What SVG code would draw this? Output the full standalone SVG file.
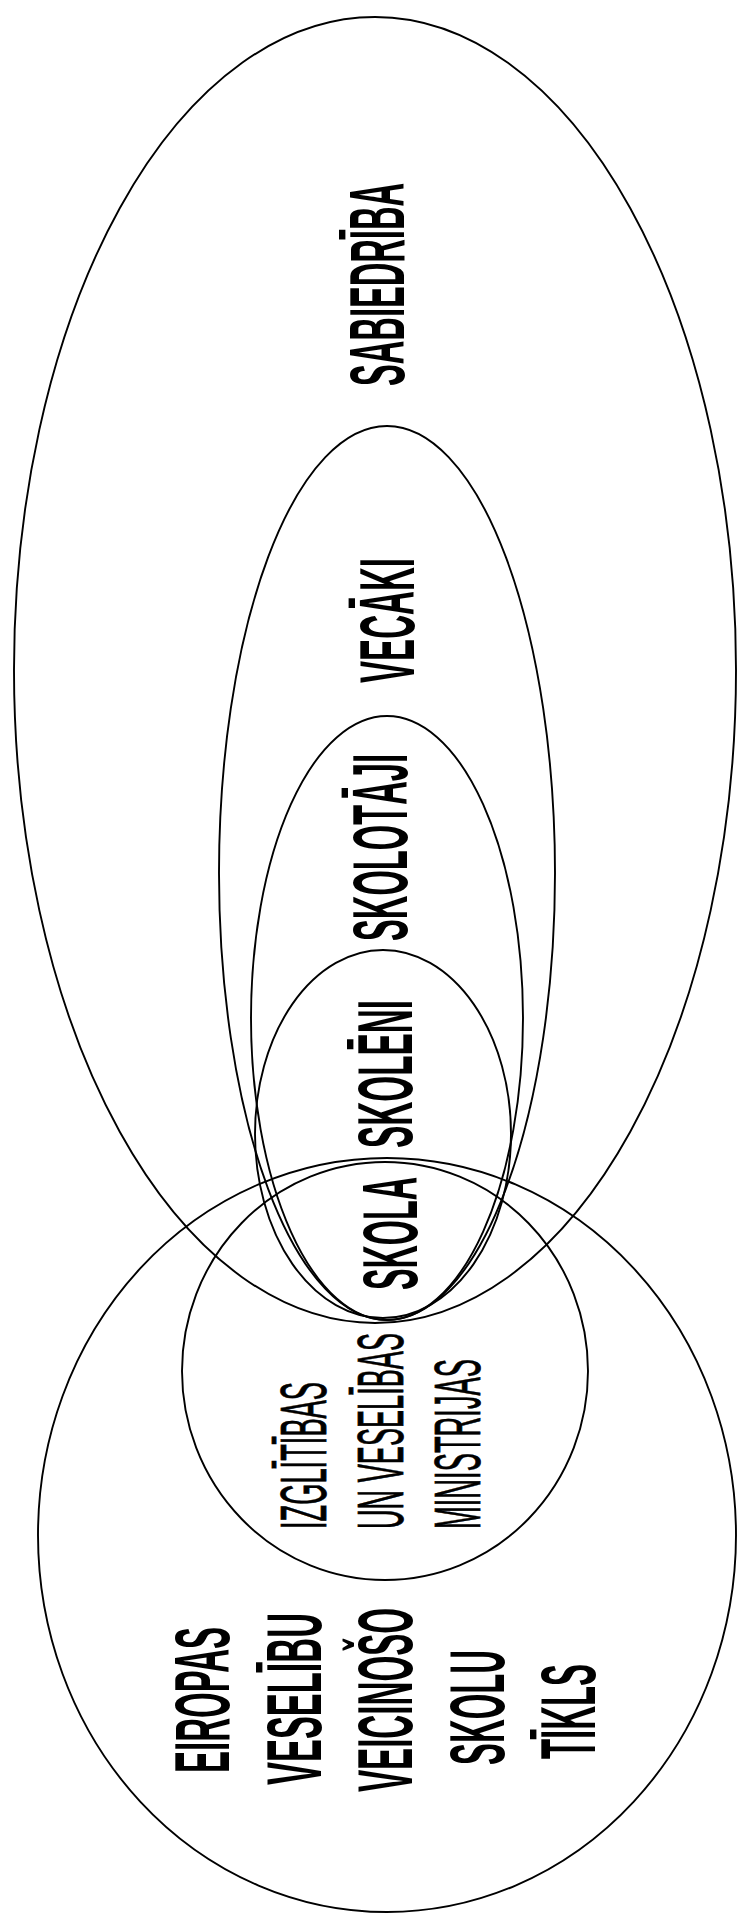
<svg xmlns="http://www.w3.org/2000/svg" width="738" height="1913" viewBox="0 0 738 1913">
<style>
.e{fill:none;stroke:#000;stroke-width:1.9}
.t{font-family:"Liberation Sans",Arial,sans-serif;font-weight:bold;fill:#000}
.b{font-size:78px}
.m{font-size:65px;font-weight:normal;stroke:#000;stroke-width:0.8}
</style>
<rect width="738" height="1913" fill="#fff"/>
<g id="connectors"></g>
<g id="sabiedriba"><ellipse class="e" cx="375" cy="670" rx="361" ry="653"/>
<text class="t b" transform="translate(404,386) rotate(-90)" textLength="203" lengthAdjust="spacingAndGlyphs">SABIEDRĪBA</text></g>
<g id="vecaki"><ellipse class="e" cx="387" cy="873" rx="168" ry="447"/>
<text class="t b" transform="translate(414,683) rotate(-90)" textLength="125" lengthAdjust="spacingAndGlyphs">VECĀKI</text></g>
<g id="skolotaji"><ellipse class="e" cx="387" cy="1018" rx="136" ry="302"/>
<text class="t b" transform="translate(407,941) rotate(-90)" textLength="187" lengthAdjust="spacingAndGlyphs">SKOLOTĀJI</text></g>
<g id="skoleni"><ellipse class="e" cx="383" cy="1134" rx="128" ry="184"/>
<text class="t b" transform="translate(412,1148) rotate(-90)" textLength="148" lengthAdjust="spacingAndGlyphs">SKOLĒNI</text></g>
<g id="skola"><text class="t b" transform="translate(417,1290) rotate(-90)" textLength="113" lengthAdjust="spacingAndGlyphs">SKOLA</text></g>
<g id="ministrijas"><ellipse class="e" cx="385" cy="1371" rx="203" ry="209"/>
<text class="t m" transform="translate(326,1529) rotate(-90)" textLength="147" lengthAdjust="spacingAndGlyphs">IZGLĪTĪBAS</text>
<text class="t m" transform="translate(403,1529) rotate(-90)" textLength="196" lengthAdjust="spacingAndGlyphs">UN VESELĪBAS</text>
<text class="t m" transform="translate(480,1529) rotate(-90)" textLength="170" lengthAdjust="spacingAndGlyphs">MINISTRIJAS</text></g>
<g id="ets"><ellipse class="e" cx="387" cy="1535" rx="349" ry="377"/>
<text class="t b" transform="translate(229,1773) rotate(-90)" textLength="146" lengthAdjust="spacingAndGlyphs">EIROPAS</text>
<text class="t b" transform="translate(321,1785) rotate(-90)" textLength="172" lengthAdjust="spacingAndGlyphs">VESELĪBU</text>
<text class="t b" transform="translate(412,1792) rotate(-90)" textLength="184" lengthAdjust="spacingAndGlyphs">VEICINOŠO</text>
<text class="t b" transform="translate(504,1765) rotate(-90)" textLength="115" lengthAdjust="spacingAndGlyphs">SKOLU</text>
<text class="t b" transform="translate(595,1759) rotate(-90)" textLength="95" lengthAdjust="spacingAndGlyphs">TĪKLS</text></g>
</svg>
